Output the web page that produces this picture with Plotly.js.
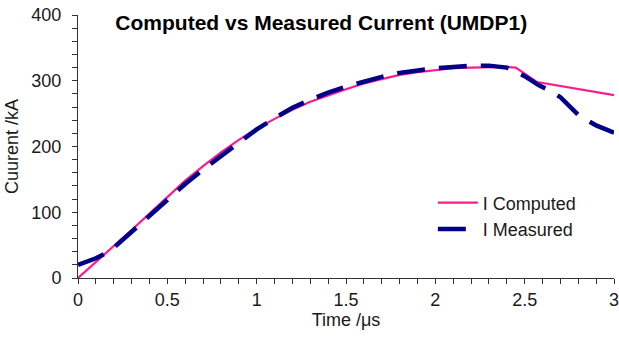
<!DOCTYPE html>
<html>
<head>
<meta charset="utf-8">
<script src="https://cdn.plot.ly/plotly-3.0.1.min.js"></script>
<style>html,body{margin:0;padding:0;background:#fff;}#chart{width:619px;height:338px;}</style>
</head>
<body>
<div id="chart"></div>
<script>
const computedTime = [0, 0.1, 0.2, 0.3, 0.4, 0.5, 0.6, 0.7, 0.8, 0.9, 1.0, 1.1, 1.2, 1.3, 1.4, 1.5, 1.6, 1.7, 1.8, 1.9, 2.0, 2.1, 2.2, 2.3, 2.4, 2.45, 2.57, 3.0];
const computedCurrent = [0, 24, 48, 73, 98, 123, 148, 170, 191, 210, 227, 242, 256, 268, 278, 287, 296, 303, 309, 313, 316, 319, 320, 321, 321, 320, 298, 278];
const measuredTime = [0, 0.1, 0.18, 0.25, 0.3, 0.4, 0.5, 0.6, 0.7, 0.8, 0.9, 1.0, 1.1, 1.2, 1.3, 1.4, 1.5, 1.6, 1.7, 1.8, 1.9, 2.0, 2.1, 2.2, 2.3, 2.4, 2.5, 2.58, 2.65, 2.7, 2.8, 2.9, 3.0];
const measuredCurrent = [20, 30, 41, 58, 70, 95, 119, 143, 165, 186, 207, 226, 243, 259, 271, 282, 291, 299, 306, 312, 316, 319, 321, 323, 323, 320, 307, 293, 284, 275, 248, 232, 221];
const seriesNames = ['I Computed', 'I Measured'];
const xTicks = [0, 0.5, 1, 1.5, 2, 2.5, 3];
const xTickText = ['0', '0.5', '1', '1.5', '2', '2.5', '3'];
const yTicks = [0, 100, 200, 300, 400];

const font = {family: 'Liberation Sans, Arial, sans-serif', size: 18, color: '#1a1a1a'};

const traces = [
  {x: computedTime, y: computedCurrent, name: seriesNames[0], mode: 'lines',
   line: {color: '#ff1a8c', width: 2.2}},
  {x: measuredTime, y: measuredCurrent, name: seriesNames[1], mode: 'lines',
   line: {color: '#000088', width: 4.5, dash: '28px,14px'}}
];

const layout = {
  width: 619, height: 338,
  margin: {l: 78, r: 5, t: 15, b: 60},
  paper_bgcolor: '#fff', plot_bgcolor: '#fff',
  font: font,
  showlegend: true,
  title: {text: '<b>Computed vs Measured Current (UMDP1)</b>', x: 0.519, xanchor: 'center', y: 0.932, yanchor: 'middle',
          font: {family: 'Liberation Sans, Arial, sans-serif', size: 21, color: '#000'}},
  xaxis: {
    range: [0, 3], tickvals: xTicks, ticktext: xTickText,
    showgrid: false, zeroline: false, showline: true, linecolor: '#333', linewidth: 1,
    ticks: 'outside', ticklen: 5, tickcolor: '#333', tickfont: font, ticklabeloverflow: 'allow',
    minor: {dtick: 0.1, ticks: 'outside', ticklen: 5, tickcolor: '#333', showgrid: false},
    title: {text: 'Time /μs', font: font, standoff: 4}
  },
  yaxis: {
    range: [0, 400], tickvals: yTicks,
    showgrid: false, zeroline: false, showline: true, linecolor: '#333', linewidth: 1,
    ticks: 'outside', ticklen: 5, tickcolor: '#333', tickfont: font, ticklabelstandoff: 7,
    minor: {dtick: 20, ticks: 'outside', ticklen: 5, tickcolor: '#333', showgrid: false},
    title: {text: 'Cuurent /kA', font: font, standoff: 8}
  },
  legend: {x: 0.662, y: 0.356, xanchor: 'left', yanchor: 'top', bgcolor: 'rgba(0,0,0,0)',
           font: font, tracegroupgap: 0, itemwidth: 40}
};

Plotly.newPlot('chart', traces, layout, {staticPlot: true, displayModeBar: false});
</script>
</body>
</html>
